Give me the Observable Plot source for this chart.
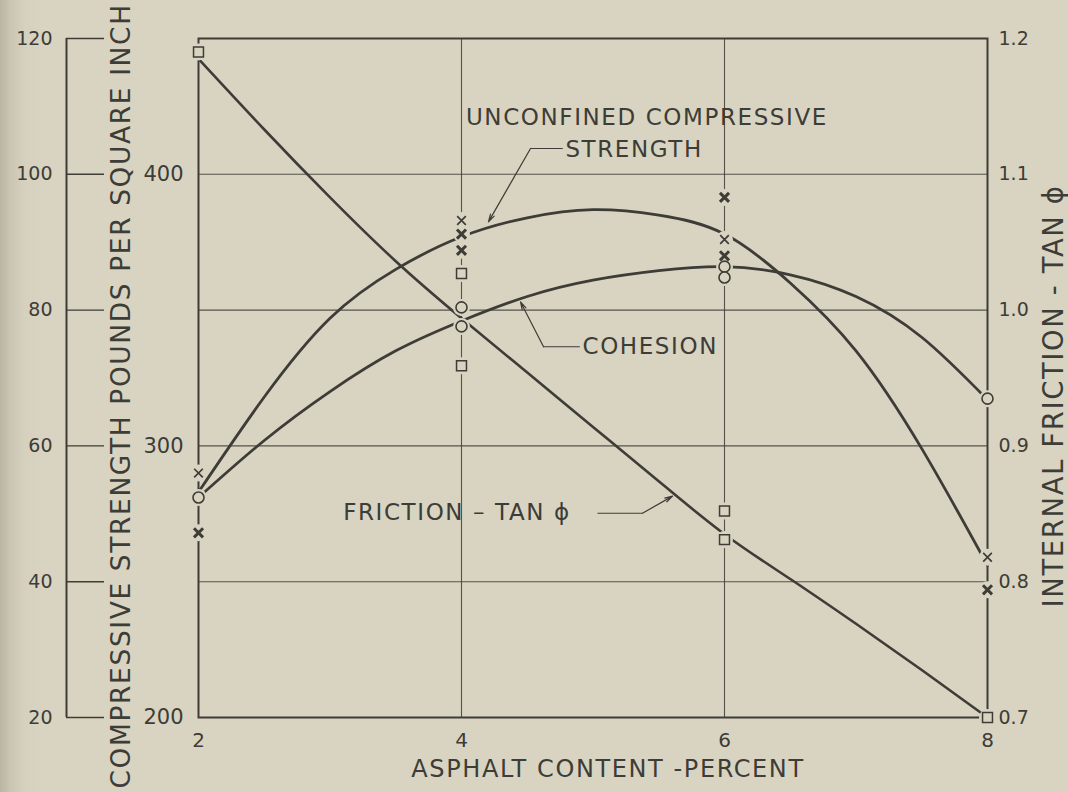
<!DOCTYPE html>
<html><head><meta charset="utf-8">
<script src="https://cdn.jsdelivr.net/npm/d3@7"></script>
<script src="https://cdn.jsdelivr.net/npm/@observablehq/plot@0.6"></script>
<style>
html,body{margin:0;padding:0;width:1068px;height:792px;overflow:hidden;}
body{background:linear-gradient(to right,#b9b5a4 0px,#c9c5b2 10px,#d5d1be 24px,#d8d4c1 44px);}
#chart svg{display:block;overflow:visible;}
g[aria-label="text"] text{letter-spacing:1.6px;}
</style></head><body><div id="chart"></div>
<script>
// ---- data ----
const asphalt = [2, 2.5, 3, 3.5, 4, 4.5, 5, 5.5, 6, 6.5, 7, 7.5, 8];
const strengthCurve = [283, 318, 347, 365, 377, 384, 387, 385, 378, 360, 335, 299, 256];
const cohesionCurve = [281, 302, 320, 335, 346, 355, 361, 364.5, 366, 363, 355, 340, 317];
const frictionCurve = [1.185, 1.133, 1.083, 1.036, 0.994, 0.954, 0.914, 0.874, 0.835, 0.802, 0.769, 0.735, 0.700];

const strengthPtsX = [2, 4, 6, 8];
const strengthPtsY = [290, 383, 376, 259];
const strengthBoldX = [2, 4, 4, 6, 6, 8];
const strengthBoldY = [268, 378, 372, 391.5, 370, 247];
const cohesionPtsX = [2, 4, 4, 6, 6, 8];
const cohesionPtsY = [281, 351, 344, 366, 362, 317.4];
const frictionPtsX = [2, 4, 4, 6, 6, 8];
const frictionPtsY = [1.19, 1.027, 0.959, 0.852, 0.831, 0.70];

const xTicks = [2, 4, 6, 8];
const innerTicks = [200, 300, 400];
const gridTicks = [250, 300, 350, 400];
const allTicks = [200, 250, 300, 350, 400, 450];

// ---- helpers ----
const ink = "#3d3c37", bg = "#d8d4c1";
const toInner = f => 200 + (f - 0.7) * 500;          // friction (tan φ) -> plotting units
const outerLabel = v => String(Math.round((v - 200) / 2.5 + 20));
const frictionLabel = v => ((v - 200) / 500 + 0.7).toFixed(1);
const series = (xs, ys, conv = d => d) => xs.map((x, i) => ({x, y: conv(ys[i])}));

const strengthLine = series(asphalt, strengthCurve);
const cohesionLine = series(asphalt, cohesionCurve);
const frictionLine = series(asphalt, frictionCurve, toInner);
const sPts = series(strengthPtsX, strengthPtsY);
const sBold = series(strengthBoldX, strengthBoldY);
const cPts = series(cohesionPtsX, cohesionPtsY);
const fPts = series(frictionPtsX, frictionPtsY, toInner);
const allPts = [...sPts, ...sBold, ...cPts, ...fPts];

const font = "DejaVu Sans";
const chart = Plot.plot({
  width: 1068, height: 792,
  marginLeft: 198, marginRight: 81, marginTop: 38, marginBottom: 75,
  x: {domain: [2, 8], label: null},
  y: {domain: [200, 450], label: null},
  style: {background: "transparent", color: ink, fontFamily: font},
  marks: [
    Plot.gridY(gridTicks, {stroke: ink, strokeOpacity: 0.85, strokeWidth: 1.1}),
    Plot.gridX([4, 6], {stroke: ink, strokeOpacity: 0.85, strokeWidth: 1.1}),
    Plot.frame({stroke: ink, strokeWidth: 2}),
    // outer (left-most) axis line
    Plot.ruleX([2], {y1: 200, y2: 450, dx: -132, stroke: ink, strokeWidth: 2}),
    // curves
    Plot.line(strengthLine, {x: "x", y: "y", curve: "natural", stroke: ink, strokeWidth: 2.8}),
    Plot.line(cohesionLine, {x: "x", y: "y", curve: "natural", stroke: ink, strokeWidth: 2.8}),
    Plot.line(frictionLine, {x: "x", y: "y", curve: "natural", stroke: ink, strokeWidth: 2.6}),
    // halos that break lines around the points
    Plot.dot(allPts, {x: "x", y: "y", r: 8.5, fill: bg, stroke: null}),
    // markers
    Plot.dot(cPts, {x: "x", y: "y", r: 5.5, symbol: "circle", fill: bg, stroke: ink, strokeWidth: 1.6}),
    Plot.dot(fPts, {x: "x", y: "y", r: 5.6, symbol: "square", fill: bg, stroke: ink, strokeWidth: 1.5}),
    Plot.dot(sPts, {x: "x", y: "y", r: 4.0, symbol: "times", stroke: ink, strokeWidth: 1.7}),
    Plot.dot(sBold, {x: "x", y: "y", r: 4.2, symbol: "times", stroke: ink, strokeWidth: 3}),
    // leader lines
    Plot.link([0], {x1: 4.525, y1: 409.5, x2: 4.77, y2: 409.5, stroke: ink, strokeWidth: 1.2}),
    Plot.arrow([0], {x1: 4.525, y1: 409.5, x2: 4.205, y2: 382.5, stroke: ink, strokeWidth: 1.2, headLength: 10, headAngle: 30}),
    Plot.link([0], {x1: 4.624, y1: 336.5, x2: 4.90, y2: 336.5, stroke: ink, strokeWidth: 1.2}),
    Plot.arrow([0], {x1: 4.624, y1: 336.5, x2: 4.449, y2: 353, stroke: ink, strokeWidth: 1.2, headLength: 10, headAngle: 30}),
    Plot.link([0], {x1: 5.034, y1: 275.2, x2: 5.376, y2: 275.2, stroke: ink, strokeWidth: 1.2}),
    Plot.arrow([0], {x1: 5.376, y1: 275.2, x2: 5.605, y2: 281.5, stroke: ink, strokeWidth: 1.2, headLength: 10, headAngle: 30}),
    // annotations
    Plot.text(["UNCONFINED COMPRESSIVE"], {x: 5.41, y: 421, fontSize: 23, fill: ink, fontFamily: font}),
    Plot.text(["STRENGTH"], {x: 4.79, y: 409, textAnchor: "start", fontSize: 23, fill: ink, fontFamily: font}),
    Plot.text(["COHESION"], {x: 4.92, y: 336.5, textAnchor: "start", fontSize: 23, fill: ink, fontFamily: font}),
    Plot.text(["FRICTION – TAN ϕ"], {x: 3.10, y: 275.5, textAnchor: "start", fontSize: 23, fill: ink, fontFamily: font}),
    // axis titles
    Plot.text(["COMPRESSIVE STRENGTH POUNDS PER SQUARE INCH"], {frameAnchor: "bottom-left", dx: -69, dy: 71, rotate: -90, textAnchor: "start", fontSize: 26.5, fill: ink, fontFamily: font}),
    Plot.text(["INTERNAL FRICTION - TAN ϕ"], {frameAnchor: "bottom-right", dx: 75, dy: -110, rotate: -90, textAnchor: "start", fontSize: 27.5, fill: ink, fontFamily: font}),
    Plot.text(["ASPHALT CONTENT -PERCENT"], {frameAnchor: "bottom", dx: 15, dy: 59, fontSize: 24, fill: ink, fontFamily: font}),
    // axes
    Plot.axisY({anchor: "left", ticks: allTicks, tickFormat: outerLabel, tickSize: 38, dx: -94, tickPadding: 14, fontSize: 19, strokeWidth: 1.4}),
    Plot.axisY({anchor: "left", ticks: innerTicks, tickSize: 0, tickPadding: 15, fontSize: 21}),
    Plot.axisY({anchor: "right", ticks: allTicks, tickFormat: frictionLabel, tickSize: 0, tickPadding: 11, fontSize: 19}),
    Plot.axisX({ticks: xTicks, tickFormat: d => String(d), tickSize: 0, tickPadding: 15, fontSize: 20})
  ]
});
document.getElementById("chart").appendChild(chart);
</script>
</body></html>
